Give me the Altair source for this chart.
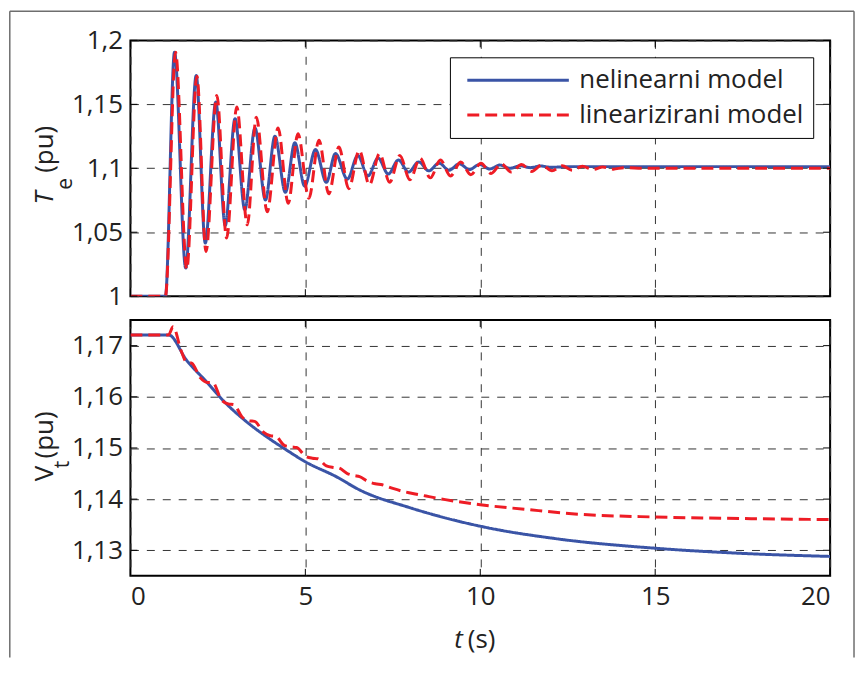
import altair as alt
import pandas as pd

# ---------------- data ----------------
S_NL = "nelinearni model"
S_LIN = "linearizirani model"

# Electrical torque Te (pu), nonlinear model
te_nl_t = [0.0, 1.0, 1.26, 1.58, 1.88, 2.14, 2.44, 2.71, 2.99, 3.27, 3.56, 3.86, 4.13, 4.43,
           4.70, 4.98, 5.29, 5.60, 5.86, 6.20, 6.50, 6.79, 7.08, 7.37, 7.66, 7.95, 8.24,
           8.53, 8.82, 9.11, 9.40, 9.69, 9.98, 10.27, 10.56, 10.85, 11.14, 11.43, 11.72,
           12.01, 12.6, 20.0]
te_nl_v = [1.0, 1.0, 1.1907, 1.022, 1.1725, 1.0415, 1.1518, 1.0553, 1.1388, 1.0675, 1.1315,
           1.0752, 1.125, 1.0812, 1.120, 1.086, 1.1146, 1.089, 1.1115, 1.0915, 1.110, 1.094,
           1.108, 1.0955, 1.1065, 1.097, 1.105, 1.098, 1.104, 1.0985, 1.1035, 1.099, 1.103,
           1.0995, 1.1025, 1.100, 1.102, 1.1005, 1.1018, 1.1008, 1.1013, 1.1013]

# Electrical torque Te (pu), linearised model
te_lin_t = [0.0, 1.0, 1.29, 1.61, 1.90, 2.16, 2.47, 2.75, 3.04, 3.34, 3.60, 3.91, 4.22, 4.51,
            4.79, 5.10, 5.39, 5.67, 5.96, 6.24, 6.54, 6.83, 7.12, 7.41, 7.70, 7.99, 8.28,
            8.57, 8.86, 9.15, 9.44, 9.73, 10.02, 10.31, 10.60, 10.89, 11.18, 11.47, 11.76,
            12.05, 12.34, 12.63, 12.92, 13.21, 13.50, 13.80, 14.10, 14.7, 20.0]
te_lin_v = [1.0, 1.0, 1.1907, 1.021, 1.172, 1.035, 1.157, 1.0454, 1.148, 1.0558, 1.140, 1.066,
            1.1315, 1.0726, 1.127, 1.0765, 1.122, 1.080, 1.1167, 1.084, 1.114, 1.087, 1.1115,
            1.089, 1.110, 1.091, 1.108, 1.0925, 1.1065, 1.094, 1.105, 1.095, 1.104, 1.096,
            1.1035, 1.097, 1.103, 1.0975, 1.1025, 1.098, 1.102, 1.0985, 1.1015, 1.099, 1.101,
            1.0993, 1.1005, 1.100, 1.100]

# Terminal voltage Vt (pu), nonlinear model
vt_nl_t = [0.0, 1.09, 1.61, 2.18, 2.66, 3.27, 3.89, 4.46, 5.0, 5.88, 6.55, 8.0, 10.0, 12.24,
           15.0, 17.46, 20.0]
vt_nl_v = [1.1721, 1.1721, 1.1671, 1.1629, 1.1592, 1.1554, 1.1522, 1.1496, 1.1473, 1.1444,
           1.1418, 1.1383, 1.1347, 1.1322, 1.1304, 1.1294, 1.1288]

# Terminal voltage Vt (pu), linearised model
vt_lin_t = [0.0, 1.09, 1.22, 1.45, 1.60, 1.75, 2.0, 2.2, 2.35, 2.6, 2.8, 2.95, 3.2, 3.4, 3.55,
            3.8, 4.0, 4.15, 4.4, 4.6, 4.75, 5.0, 5.2, 5.35, 5.6, 5.8, 5.95, 6.2, 6.4, 6.55,
            6.8, 7.0, 7.2, 7.5, 7.8, 8.0, 8.45, 9.0, 10.0, 11.3, 12.7, 15.0, 17.5, 20.0]
vt_lin_v = [1.1721, 1.1721, 1.1737, 1.1690, 1.1668, 1.1666, 1.1637, 1.1628, 1.1628, 1.1594,
            1.1586, 1.1585, 1.1560, 1.1553, 1.1552, 1.1531, 1.1524, 1.1523, 1.1505, 1.1502,
            1.1501, 1.1484, 1.1480, 1.1479, 1.1465, 1.1462, 1.1461, 1.1450, 1.1446, 1.1444,
            1.1434, 1.1430, 1.1428, 1.1421, 1.1415, 1.1412, 1.1406, 1.1399, 1.1389, 1.1380,
            1.1371, 1.1365, 1.1362, 1.1360]

x_ticks = [0, 5, 10, 15, 20]
te_ticks = [1.0, 1.05, 1.1, 1.15, 1.2]
vt_ticks = [1.13, 1.14, 1.15, 1.16, 1.17]

# ---------------- styling ----------------
BLUE = "#3a54a6"
RED = "#ee1c25"
FONT = "Open Sans"
FS = 26
W, H = 703, 257
TK = 7  # inward tick length

series_order = [S_NL, S_LIN]
color_scale = alt.Scale(domain=series_order, range=[BLUE, RED])
dash_scale = alt.Scale(domain=series_order, range=[[1, 0], [12, 6]])

label_expr = "replace(format(datum.value, '.2~f'), '.', ',')"


def frame(t, v, s):
    return pd.DataFrame({"t": t, "v": v, "s": s, "k": list(range(len(t)))})


te_df = pd.concat([frame(te_nl_t, te_nl_v, S_NL), frame(te_lin_t, te_lin_v, S_LIN)])
vt_df = pd.concat([frame(vt_nl_t, vt_nl_v, S_NL), frame(vt_lin_t, vt_lin_v, S_LIN)])

one = alt.Data(values=[{"a": 0}])


def lines(df, ydomain, yticks, show_x, show_legend):
    xaxis = alt.Axis(values=x_ticks, grid=True, labels=show_x, ticks=False, domain=False,
                     title=None, labelFontSize=FS, labelPadding=8, labelFont=FONT,
                     labelColor="#222")
    yaxis = alt.Axis(values=yticks, grid=True, ticks=False, domain=False, title=None,
                     labelExpr=label_expr, labelFontSize=FS, labelFont=FONT,
                     labelPadding=8, labelColor="#222")
    if show_legend:
        legend = alt.Legend(title=None, orient="top-right", offset=17,
                            symbolType="M-0.872,0H1", symbolSize=11881, symbolStrokeWidth=3,
                            clipHeight=28, rowPadding=7, padding=9,
                            labelFontSize=FS, labelFont=FONT, labelColor="#222",
                            labelOffset=9, strokeColor="black", fillColor="white",
                            labelLimit=400)
    else:
        legend = None
    xs = alt.Scale(domain=[0, 20], nice=False)
    ys = alt.Scale(domain=ydomain, nice=False, zero=False)
    base = alt.Chart(df).encode(
        x=alt.X("t:Q", scale=xs, axis=xaxis),
        y=alt.Y("v:Q", scale=ys, axis=yaxis),
        color=alt.Color("s:N", scale=color_scale, legend=legend, sort=series_order),
        strokeDash=alt.StrokeDash("s:N", scale=dash_scale, legend=legend, sort=series_order),
        order="k:Q",
    )
    nl = base.transform_filter(alt.datum.s == S_NL).mark_line(
        strokeWidth=3, interpolate="monotone", clip=True)
    lin = base.transform_filter(alt.datum.s == S_LIN).mark_line(
        strokeWidth=3, interpolate="monotone", clip=True)

    # inward tick marks on all four sides of the box
    xt = alt.Chart(pd.DataFrame({"t": x_ticks})).mark_rule(color="black", strokeWidth=1)
    yt = alt.Chart(pd.DataFrame({"v": yticks})).mark_rule(color="black", strokeWidth=1)
    ticks = [
        xt.encode(x=alt.X("t:Q", scale=xs, axis=xaxis), y=alt.value(H - TK), y2=alt.value(H)),
        xt.encode(x=alt.X("t:Q", scale=xs, axis=xaxis), y=alt.value(0), y2=alt.value(TK)),
        yt.encode(y=alt.Y("v:Q", scale=ys, axis=yaxis), x=alt.value(0), x2=alt.value(TK)),
        yt.encode(y=alt.Y("v:Q", scale=ys, axis=yaxis), x=alt.value(W - TK), x2=alt.value(W)),
    ]
    return [nl, lin] + ticks


def txt(s, x, y, size=FS, style="normal", angle=270, align="left"):
    return alt.Chart(one).mark_text(
        text=s, angle=angle, align=align, baseline="alphabetic", font=FONT,
        fontSize=size, fontStyle=style, color="#222"
    ).encode(x=alt.value(x), y=alt.value(y))


def frame_rule(x, x2, y, y2):
    return alt.Chart(one).mark_rule(color="#6e6e6e", strokeWidth=1.5).encode(
        x=alt.value(x), x2=alt.value(x2), y=alt.value(y), y2=alt.value(y2))


te_layers = lines(te_df, [1.0, 1.2], te_ticks, False, True)
vt_layers = lines(vt_df, [1.125, 1.175], vt_ticks, True, False)

# outer figure frame (relative to the top plot area, whose corner is at 130, 38)
FL, FT, FR, FB = -121.2, -29.2, 727, 620

top = alt.layer(
    *te_layers,
    txt("T", -78, 165, style="italic"),
    txt("e", -59, 150, size=21),
    txt("(pu)", -78, 133),
    frame_rule(FL, FL, FT, FB),
    frame_rule(FL, FR, FT, FT),
    frame_rule(FR, FR, FT, FB),
).properties(width=W, height=H)

bottom = alt.layer(
    *vt_layers,
    txt("V", -78, 162),
    txt("t", -62, 149, size=21),
    txt("(pu)", -78, 139),
    txt("t", 334, 329, style="italic", angle=0, align="right"),
    txt("(s)", 339, 329, angle=0, align="left"),
).properties(width=W, height=H)

chart = alt.vconcat(top, bottom, spacing=24, bounds="flush").resolve_legend(
    color="independent", strokeDash="independent"
).properties(
    padding={"left": 0, "top": 0, "right": 0, "bottom": 0}
).configure_view(
    stroke="black", strokeWidth=2
).configure_axis(
    gridColor="#333", gridDash=[8, 8], gridWidth=1, gridOpacity=1
)

chart.save("out.html", embed_options={"renderer": "svg", "actions": False})
